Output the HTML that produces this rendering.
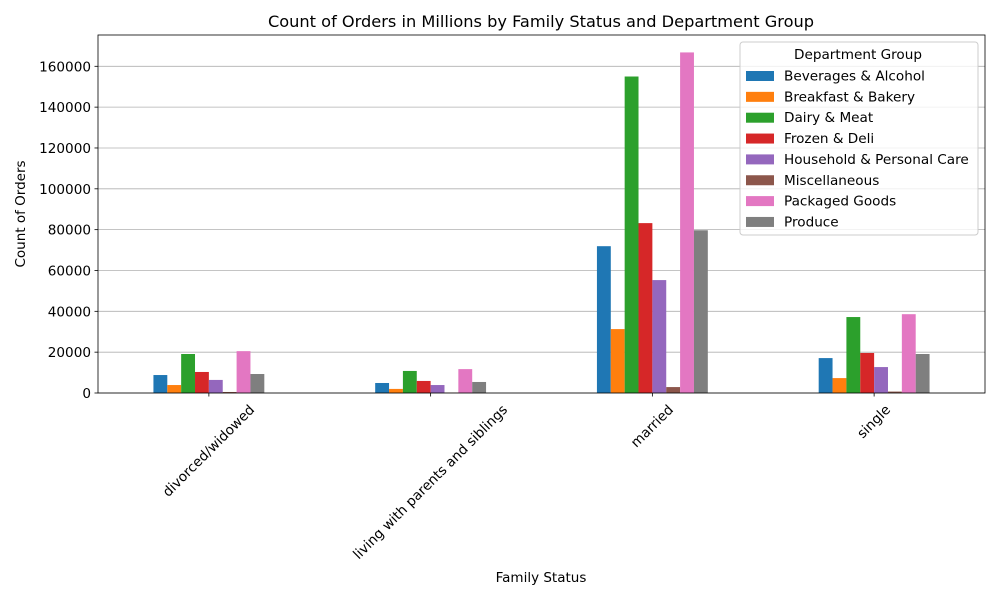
<!DOCTYPE html>
<html><head><meta charset="utf-8"><style>
body{margin:0;background:#fff}
svg{display:block;font-family:"DejaVu Sans","Liberation Sans",sans-serif}
</style></head><body>
<svg id="chart" width="1000" height="600" viewBox="0 0 1000 600">
<rect width="1000" height="600" fill="#fff"/>
<text x="541" y="27" font-size="16.2" text-anchor="middle">Count of Orders in Millions by Family Status and Department Group</text>
<g id="grid"></g><g id="bars"></g><g id="axes"></g><g id="legend"></g>
<text x="541" y="582" font-size="13.5" text-anchor="middle">Family Status</text>
<text transform="translate(25,214) rotate(-90)" font-size="13.5" text-anchor="middle">Count of Orders</text>
</svg>
<script>
const categories = ["divorced/widowed","living with parents and siblings","married","single"];
const seriesNames = ["Beverages & Alcohol","Breakfast & Bakery","Dairy & Meat","Frozen & Deli","Household & Personal Care","Miscellaneous","Packaged Goods","Produce"];
const beverages = [8800,4900,71900,17100];
const breakfast = [3900,2000,31300,7300];
const dairy = [19100,10800,155000,37200];
const frozen = [10300,5900,83200,19600];
const household = [6400,3900,55300,12700];
const misc = [500,200,2900,700];
const packaged = [20500,11700,166800,38600];
const produce = [9300,5400,79700,19100];
const yTicks = [0,20000,40000,60000,80000,100000,120000,140000,160000];

const seriesValues = [beverages,breakfast,dairy,frozen,household,misc,packaged,produce];
const colors = ["#1f77b4","#ff7f0e","#2ca02c","#d62728","#9467bd","#8c564b","#e377c2","#7f7f7f"];
const NS="http://www.w3.org/2000/svg";
const L=98,R=985,T=35,B=393;
const yMax=(B-T)/(B-66.3)*160000;
function y(v){return B-v/yMax*(B-T);}
const catW=(R-L)/categories.length;
function xc(i){return L+catW*(i+0.5);}
function mk(tag,attrs,parent){const e=document.createElementNS(NS,tag);for(const k in attrs)e.setAttribute(k,attrs[k]);parent.appendChild(e);return e;}
const grid=document.getElementById('grid'),bars=document.getElementById('bars'),axes=document.getElementById('axes'),legend=document.getElementById('legend');
const FS=13.6;
yTicks.forEach(t=>{
  const gl=mk('line',{x1:L,x2:R,y1:y(t),y2:y(t),stroke:'#b0b0b0','stroke-width':0.8},grid);
  
  
  mk('line',{x1:L-3.5,x2:L,y1:y(t),y2:y(t),stroke:'#000','stroke-width':0.8},axes);
  const tx=mk('text',{x:L-7,y:y(t)+5,'font-size':FS,'text-anchor':'end'},axes);
  tx.textContent=t;
  
  
});
const bw=catW*0.5/seriesNames.length;
seriesValues.forEach((vals,s)=>{
  vals.forEach((v,i)=>{
    const x0=xc(i)-catW*0.25+s*bw;
    const r=mk('rect',{x:x0,y:y(v),width:bw,height:B-y(v),fill:colors[s]},bars);
    
    
  });
});
mk('rect',{x:L,y:T,width:R-L,height:B-T,fill:'none',stroke:'#000','stroke-width':0.8},axes);
categories.forEach((c,i)=>{
  const x=xc(i);
  mk('line',{x1:x,x2:x,y1:B,y2:B+3.5,stroke:'#000','stroke-width':0.8},axes);
  const t=mk('text',{'font-size':FS,'text-anchor':'middle','dominant-baseline':'central'},axes);
  t.textContent=c;
  
  
  const len=t.getComputedTextLength();
  const cy=402+(len+16)*0.3536;
  t.setAttribute('transform','translate('+x+','+cy+') rotate(-45)');
});
const lb=mk('rect',{x:740,y:42,width:238,height:193,rx:3,fill:'#fff','fill-opacity':0.8,stroke:'#ccc','stroke-width':1},legend);


const lt=mk('text',{x:858,y:59,'font-size':FS,'text-anchor':'middle'},legend);
lt.textContent='Department Group';


seriesNames.forEach((n,s)=>{
  const yy=75+s*20.85;
  const g=mk('g',{},legend);
  
  
  mk('rect',{x:746,y:yy-4,width:28,height:10,fill:colors[s]},g);
  const t=mk('text',{x:784,y:yy+5.5,'font-size':FS},g);
  t.textContent=n;
});
</script>
</body></html>
